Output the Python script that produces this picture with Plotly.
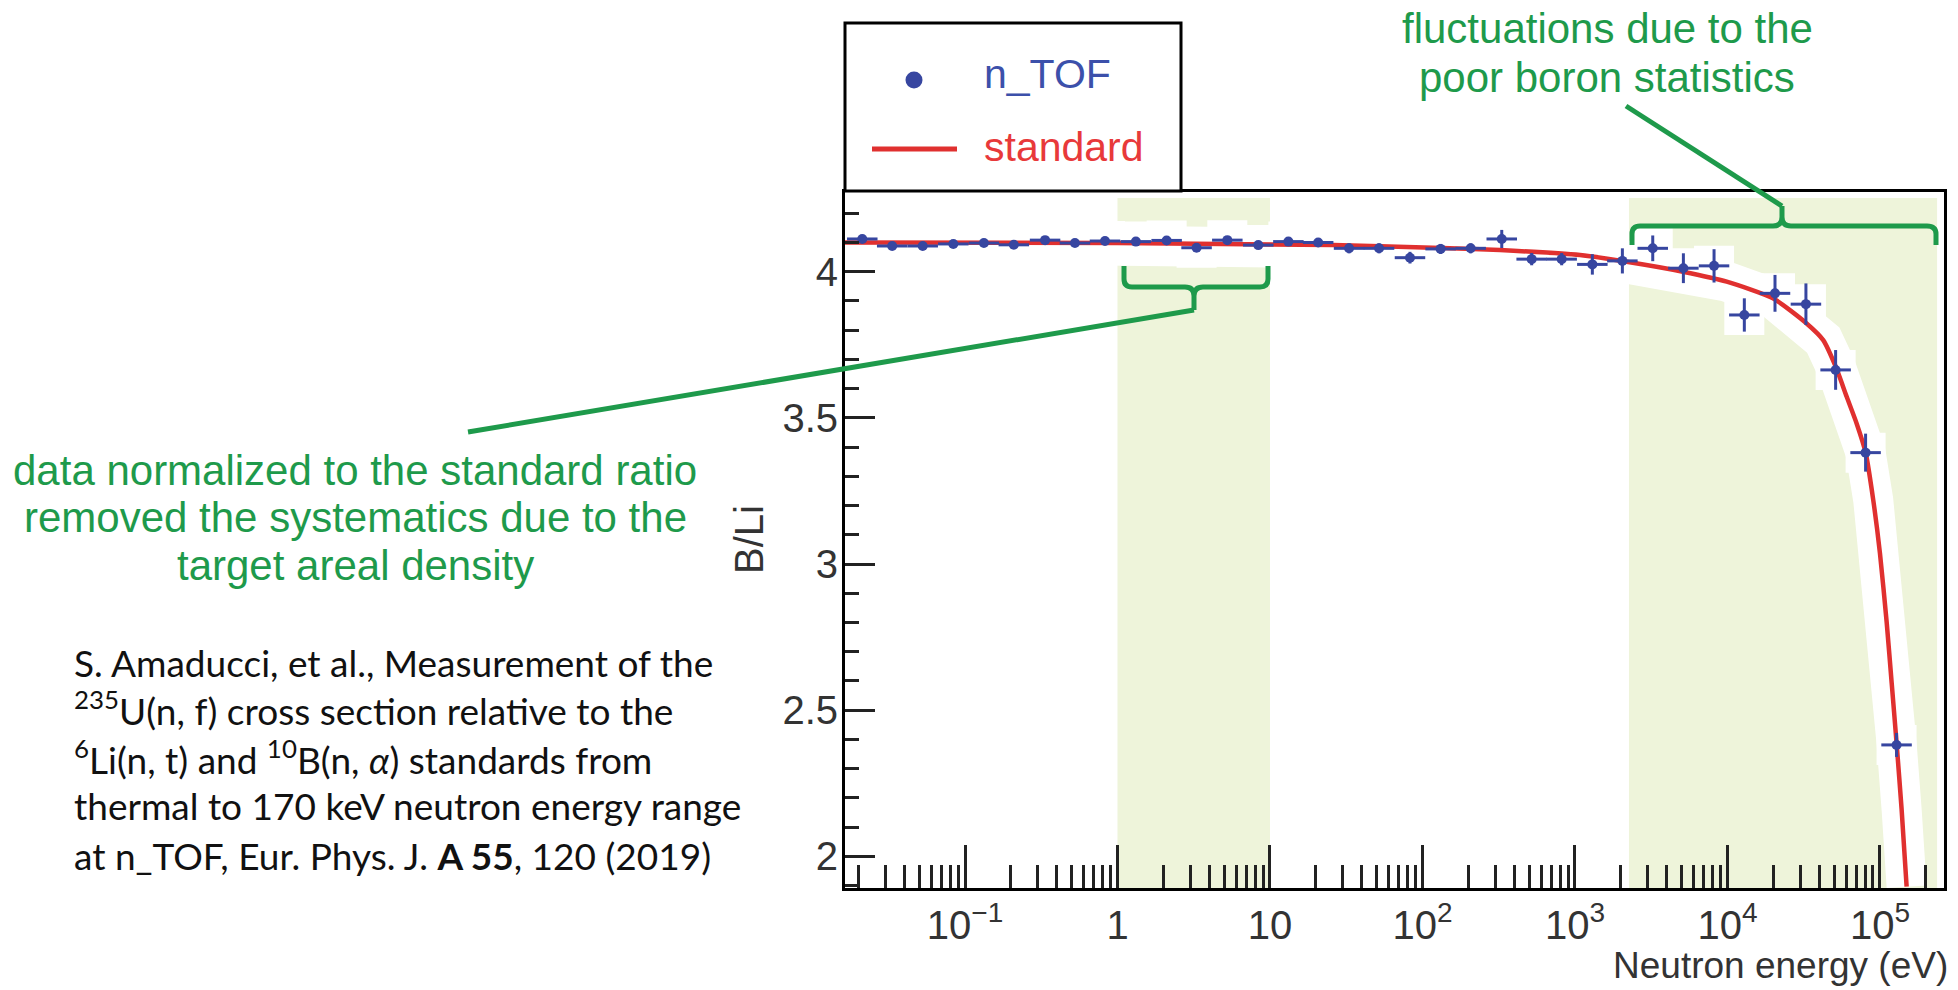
import plotly.graph_objects as go

# ---------------- data ----------------
# n_TOF measured B/Li ratio (bin centres in eV) and uncertainties
energy_ev = [0.0212, 0.0333, 0.0528, 0.0838, 0.133, 0.209, 0.335, 0.526, 0.828,
             1.32, 2.10, 3.30, 5.25, 8.38, 13.2, 20.7, 33.0, 51.9, 82.8, 131.5,
             207, 331, 520, 818, 1300, 2046, 3236, 5140, 8166, 12900, 20500,
             32700, 51200, 80500, 128500]
ratio = [4.112, 4.088, 4.088, 4.095, 4.098, 4.092, 4.108, 4.098, 4.105,
         4.103, 4.107, 4.082, 4.108, 4.091, 4.103, 4.100, 4.080, 4.080, 4.048, 4.078,
         4.080, 4.112, 4.043, 4.043, 4.025, 4.037, 4.080, 4.012, 4.020, 3.852, 3.926,
         3.889, 3.664, 3.381, 2.381]
ratio_err = [0.006, 0.006, 0.006, 0.006, 0.006, 0.006, 0.006, 0.006, 0.006,
             0.006, 0.006, 0.006, 0.008, 0.008, 0.008, 0.008, 0.017, 0.017, 0.020, 0.017,
             0.017, 0.031, 0.021, 0.021, 0.035, 0.043, 0.044, 0.051, 0.057, 0.057, 0.063,
             0.071, 0.068, 0.065, 0.041]
bin_half_width_dec = 0.1  # bins are 0.2 decades wide

# evaluated standard ratio
std_energy = [0.016, 1.0, 25.9, 117, 322, 1080, 2180, 5100, 9890, 19860, 33040,
              42460, 51290, 60530, 70300, 80540, 90360, 100000, 110700, 119400,
              128800, 138700, 149600]
std_ratio = [4.100, 4.098, 4.091, 4.082, 4.074, 4.057, 4.034, 4.000, 3.966, 3.909,
             3.823, 3.766, 3.675, 3.572, 3.481, 3.381, 3.219, 3.037, 2.800, 2.592,
             2.381, 2.160, 1.896]

# highlighted energy intervals (eV)
bands = [(1.0, 10.0), (2260, 237000)]

x_major = [0.1, 1, 10, 100, 1e3, 1e4, 1e5]
x_major_text = ["10<sup>\u22121</sup>", "1", "10", "10<sup>2</sup>", "10<sup>3</sup>",
                "10<sup>4</sup>", "10<sup>5</sup>"]
y_major = [2, 2.5, 3, 3.5, 4]
y_major_text = ["2", "2.5", "3", "3.5", "4"]

# ---------------- styles ----------------
BLUE = "#3746A0"
RED = "#E0302F"
GREEN = "#1E9A4B"
BAND = "#EEF4DA"
FONT = "Arial, Liberation Sans, sans-serif"

W, H = 1958, 990
L, R, T, B = 845, 1944, 192, 888
Y_LO, Y_HI = 1.8915, 4.2727


def px(x):
    return (x - L) / (R - L)


def py(y):
    return (B - y) / (B - T)


def svg_path(segments):
    out = []
    for cmd, pts in segments:
        out.append(cmd + " " + " ".join(f"{px(a):.5f},{py(b):.5f}" for a, b in pts))
    return " ".join(out)


fig = go.Figure()

# shaded energy intervals
for lo, hi in bands:
    fig.add_trace(go.Scatter(
        x=[lo, hi, hi, lo, lo], y=[1.85, 1.85, 4.252, 4.252, 1.85],
        mode="lines", fill="toself", fillcolor=BAND, line=dict(width=0),
        hoverinfo="skip", showlegend=False))

# white backdrop around curve and points
fig.add_trace(go.Scatter(
    x=std_energy, y=std_ratio, mode="lines",
    line=dict(color="white", width=40), hoverinfo="skip", showlegend=False))
fig.add_trace(go.Scatter(
    x=energy_ev, y=ratio, mode="markers",
    marker=dict(symbol="square", size=40, color="white"),
    hoverinfo="skip", showlegend=False))

# standard curve
fig.add_trace(go.Scatter(
    x=std_energy, y=std_ratio, mode="lines", name="standard",
    line=dict(color=RED, width=4.5, shape="spline", smoothing=0.6),
    showlegend=False))

# measured points
up = 10 ** bin_half_width_dec
fig.add_trace(go.Scatter(
    x=energy_ev, y=ratio, mode="markers", name="n_TOF",
    marker=dict(color=BLUE, size=10),
    error_y=dict(type="data", array=ratio_err, width=0, thickness=3, color=BLUE),
    error_x=dict(type="data", symmetric=False,
                 array=[e * (up - 1) for e in energy_ev],
                 arrayminus=[e * (1 - 1 / up) for e in energy_ev],
                 width=0, thickness=3, color=BLUE),
    showlegend=False))

x_minor = [m * 10 ** k for k in range(-2, 6) for m in range(2, 10)]
y_minor = [round(1.9 + 0.1 * i, 2) for i in range(24)]
y_minor = [v for v in y_minor if v not in y_major]

fig.update_xaxes(
    type="log", range=[-1.787, 5.420],
    showline=True, linecolor="black", linewidth=3, mirror=True,
    showgrid=False, zeroline=False,
    ticks="inside", ticklen=43, tickwidth=3, tickcolor="#222",
    tickmode="array", tickvals=x_major, ticktext=x_major_text,
    tickfont=dict(family=FONT, size=40, color="#333"), ticklabelstandoff=0,
    minor=dict(ticks="inside", ticklen=23, tickwidth=2.5, tickcolor="#222",
               tickmode="array", tickvals=x_minor, showgrid=False),
)
fig.update_yaxes(
    range=[Y_LO, Y_HI],
    showline=True, linecolor="black", linewidth=3, mirror=True,
    showgrid=False, zeroline=False,
    ticks="inside", ticklen=30, tickwidth=3, tickcolor="#222",
    tickmode="array", tickvals=y_major, ticktext=y_major_text,
    tickfont=dict(family=FONT, size=40, color="#333"), ticklabelstandoff=-4,
    minor=dict(ticks="inside", ticklen=14, tickwidth=2.5, tickcolor="#222",
               tickmode="array", tickvals=y_minor, showgrid=False),
)

shapes = []
# legend box
shapes.append(dict(type="rect", xref="paper", yref="paper",
                   x0=px(845), x1=px(1181), y0=py(191), y1=py(23),
                   line=dict(color="black", width=3), fillcolor="white"))
shapes.append(dict(type="circle", xref="paper", yref="paper",
                   x0=px(905.5), x1=px(922.5), y0=py(88.5), y1=py(71.5),
                   line=dict(width=0), fillcolor=BLUE))
shapes.append(dict(type="line", xref="paper", yref="paper",
                   x0=px(872), x1=px(957), y0=py(149), y1=py(149),
                   line=dict(color=RED, width=5)))

# brackets and pointer lines
bracket_low = svg_path([
    ("M", [(1124, 266)]), ("L", [(1124, 279)]), ("Q", [(1124, 287), (1132, 287)]),
    ("L", [(1185, 287)]), ("Q", [(1194, 287), (1194, 296)]), ("L", [(1194, 310)]),
    ("M", [(1194, 296)]), ("Q", [(1194, 287), (1203, 287)]), ("L", [(1260, 287)]),
    ("Q", [(1268, 287), (1268, 279)]), ("L", [(1268, 266)]),
])
bracket_high = svg_path([
    ("M", [(1632, 245)]), ("L", [(1632, 234)]), ("Q", [(1632, 226), (1640, 226)]),
    ("L", [(1773, 226)]), ("Q", [(1782, 226), (1782, 217)]), ("L", [(1782, 206)]),
    ("M", [(1782, 217)]), ("Q", [(1782, 226), (1791, 226)]), ("L", [(1927, 226)]),
    ("Q", [(1936, 226), (1936, 234)]), ("L", [(1936, 245)]),
])
for p in (bracket_low, bracket_high):
    shapes.append(dict(type="path", xref="paper", yref="paper", path=p,
                       line=dict(color=GREEN, width=5)))
shapes.append(dict(type="line", xref="paper", yref="paper",
                   x0=px(1194), y0=py(310), x1=px(468), y1=py(432),
                   line=dict(color=GREEN, width=5)))
shapes.append(dict(type="line", xref="paper", yref="paper",
                   x0=px(1782), y0=py(206), x1=px(1626), y1=py(106),
                   line=dict(color=GREEN, width=5)))

annotations = []


def note(text, x, y, size, color, xanchor="center", family=FONT, angle=0):
    annotations.append(dict(
        text=text, x=px(x), y=py(y), xref="paper", yref="paper",
        xanchor=xanchor, yanchor="middle", showarrow=False, textangle=angle,
        font=dict(family=family, size=size, color=color)))


# legend entries
note("n_TOF", 982, 74, 41, "#3C50AA", xanchor="left")
note("standard", 982, 147, 41, "#E8393A", xanchor="left")

# axis titles
note("Neutron energy (eV)", 1950, 965, 37, "#333", xanchor="right")
note("B/Li", 749, 540, 40, "#333", angle=-90)

# green comments
note("fluctuations due to the", 1607, 29, 42, GREEN)
note("poor boron statistics", 1607, 77, 42, GREEN)
note("data normalized to the standard ratio", 355, 470, 42, GREEN)
note("removed the systematics due to the", 355, 517, 42, GREEN)
note("target areal density", 355, 565, 42, GREEN)

# reference
CIT = "Lato, Calibri, sans-serif"
note("S. Amaducci, et al., Measurement of the", 72, 662, 37, "#111", "left", CIT)
note("<sup>235</sup>U(n, f) cross section relative to the", 72, 708, 37, "#111", "left", CIT)
note("<sup>6</sup>Li(n, t) and <sup>10</sup>B(n, <i>\u03b1</i>) standards from",
     72, 757, 37, "#111", "left", CIT)
note("thermal to 170 keV neutron energy range", 72, 805, 37, "#111", "left", CIT)
note("at n_TOF, Eur. Phys. J. <b>A 55</b>, 120 (2019)", 72, 855, 37, "#111", "left", CIT)

fig.update_layout(
    width=W, height=H, autosize=False,
    margin=dict(l=L, r=W - R, t=T, b=H - B, pad=0),
    paper_bgcolor="white", plot_bgcolor="white",
    shapes=shapes, annotations=annotations,
    showlegend=False,
)

fig.write_html("out.html")
